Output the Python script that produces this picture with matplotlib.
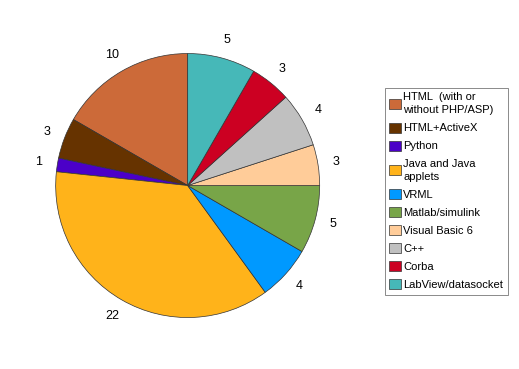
import matplotlib.pyplot as plt

plt.rcParams['font.family'] = ['Liberation Sans', 'DejaVu Sans']

# data
labels = ['HTML  (with or\nwithout PHP/ASP)', 'HTML+ActiveX', 'Python',
          'Java and Java\napplets', 'VRML', 'Matlab/simulink',
          'Visual Basic 6', 'C++', 'Corba', 'LabView/datasocket']
counts = [10, 3, 1, 22, 4, 5, 3, 4, 3, 5]
colors = ['#CC6A39', '#663300', '#4B00C8', '#FFB31A', '#0099FF',
          '#78A548', '#FFCC99', '#C0C0C0', '#CC0022', '#46B8B8']

fig = plt.figure(figsize=(5.19, 3.69), dpi=100)
lim = 1.39
ax = fig.add_axes([4.2 / 519, 0.0, 2 * lim * 132 / 519, 2 * lim * 132 / 369])

wedges, texts = ax.pie(counts, labels=[str(c) for c in counts], colors=colors,
                       startangle=90, counterclock=True, radius=1,
                       labeldistance=1.14,
                       wedgeprops=dict(edgecolor='#333333', linewidth=0.5),
                       textprops=dict(fontsize=9))
for t in texts:
    t.set_ha('center')
    t.set_va('center')
ax.set_xlim(-lim, lim)
ax.set_ylim(-lim, lim)
ax.axis('off')

leg = fig.legend(wedges, labels, loc='upper left',
                 bbox_to_anchor=(385 / 519, 1 - 88 / 369),
                 borderaxespad=0, fontsize=8, fancybox=False,
                 edgecolor='#555555', handlelength=1.0, handleheight=1.0,
                 handletextpad=0.25, labelspacing=0.66, borderpad=0.4)
leg.get_frame().set_linewidth(0.6)
for t in leg.get_texts():
    t.set_linespacing(1.35)

fig.savefig('out.png', dpi=100)
